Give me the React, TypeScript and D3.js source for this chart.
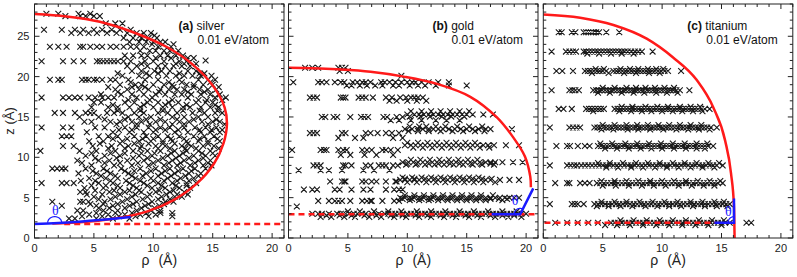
import React from 'react';
import * as d3 from 'd3';

const W = 797, H = 277;
const PLOT_TOP = 4, PLOT_BOTTOM = 238, PLOT_W = 249.5;
const panelLefts = [34.5, 288.5, 543.3];
const xDomain = [0, 21];
const yDomain = [0, 29];
const xMajor = [0, 5, 10, 15, 20];
const yMajor = [0, 5, 10, 15, 20, 25];
const xMinor = d3.range(0, 22, 1);
const yMinor = d3.range(0, 30, 1);

const panelTags = ['(a)', '(b)', '(c)'];
const panelNames = ['silver', 'gold', 'titanium'];
const energyLabel = '0.01 eV/atom';

type Row = { z: number; rho: number[] };

const silverRows: Row[] = [
  { z: 27.8, rho: [1.0, 2.0, 3.7, 4.7] },
  { z: 27.5, rho: [2.6, 3.85, 4.3, 5.0, 5.5] },
  { z: 26.6, rho: [6.0, 6.8, 7.4] },
  { z: 25.8, rho: [0.8, 2.3, 3.4, 4.1, 5.0, 5.7, 6.5, 7.2, 8.1] },
  { z: 25.4, rho: [3.1, 3.85, 4.55, 5.25, 6.1, 6.9, 7.8, 8.6, 9.2, 9.8] },
  { z: 25.1, rho: [8.9, 10.1] },
  { z: 24.8, rho: [7.5, 8.3, 9.0, 9.6, 10.3] },
  { z: 24.3, rho: [8.0, 8.8, 9.4, 10.0, 10.6, 11.0] },
  { z: 24.0, rho: [9.9, 10.8, 11.7] },
  { z: 23.7, rho: [1.3, 2.0, 2.7, 3.85, 4.1, 4.7, 5.25, 5.7, 6.4, 6.9, 7.5, 8.1, 8.6, 9.2, 10.4, 11.5] },
  { z: 23.2, rho: [8.9, 9.7, 10.2, 10.9, 11.4, 12.1] },
  { z: 22.6, rho: [7.6, 8.3, 9.0, 9.5, 10.6, 11.2, 11.9, 12.5] },
  { z: 22.3, rho: [10.2, 11.5, 12.9, 13.4] },
  { z: 22.0, rho: [14.4] },
  { z: 21.9, rho: [0.6, 2.4, 3.3, 4.1, 5.25, 5.5, 5.8, 6.1, 6.4, 6.7, 7.0, 7.5, 8.1, 9.3, 10.0, 10.9, 12.2, 12.8] },
  { z: 21.6, rho: [9.0, 11.9, 12.6, 13.6] },
  { z: 21.3, rho: [7.8, 8.6, 9.5, 10.4, 11.0, 11.7, 12.4, 13.1] },
  { z: 20.7, rho: [8.2, 9.0, 10.1, 10.7, 11.4, 12.9, 13.6] },
  { z: 20.4, rho: [7.0, 9.4, 10.4, 12.2, 13.9, 14.3] },
  { z: 20.1, rho: [7.4, 8.8, 9.7, 11.1, 11.9, 12.6, 13.3, 14.0, 14.9] },
  { z: 19.6, rho: [1.3, 2.0, 2.3, 4.0, 4.3, 4.55, 5.0, 5.25, 5.7, 6.4, 6.8, 7.9, 9.3, 10.4, 12.2, 13.8, 14.6, 15.2] },
  { z: 19.3, rho: [8.1, 11.3, 12.4, 14.8] },
  { z: 19.0, rho: [7.2, 8.5, 9.0, 10.0, 10.9, 11.6, 12.8, 13.4, 14.2, 15.0] },
  { z: 18.7, rho: [6.2, 8.2, 9.3, 11.7, 13.4, 15.5] },
  { z: 18.4, rho: [6.8, 7.8, 8.8, 9.6, 10.6, 11.3, 12.0, 12.6, 13.9, 14.6, 15.3] },
  { z: 18.1, rho: [7.0, 10.5, 12.9, 14.3] },
  { z: 17.8, rho: [5.6, 7.3, 8.2, 9.2, 10.2, 11.0, 11.8, 12.4, 13.2, 14.0, 14.8, 15.6] },
  { z: 17.4, rho: [0.6, 2.4, 2.9, 3.4, 3.85, 4.55, 5.1, 5.7, 6.2, 6.7, 8.6, 9.9, 12.9, 15.2, 16.1] },
  { z: 17.1, rho: [7.9, 9.7, 11.6, 13.8, 14.5, 15.8] },
  { z: 16.8, rho: [5.0, 5.6, 7.6, 8.4, 9.5, 10.4, 11.3, 12.1, 13.6, 14.4, 15.0] },
  { z: 16.5, rho: [6.6, 9.2, 11.0, 12.8, 15.2] },
  { z: 16.2, rho: [4.8, 6.2, 7.0, 8.0, 8.9, 10.0, 10.8, 11.6, 12.5, 13.1, 14.0, 14.8, 15.5] },
  { z: 15.8, rho: [7.0, 8.9, 10.8, 12.5, 13.9, 15.4] },
  { z: 15.5, rho: [1.7, 2.4, 3.4, 4.3, 4.7, 5.0, 6.1, 6.7, 7.4, 8.4, 9.2, 10.4, 11.2, 12.0, 13.3, 14.3, 15.2, 15.8] },
  { z: 15.0, rho: [3.8, 5.4, 7.9, 8.8, 9.8, 11.6, 12.6, 13.8, 14.6] },
  { z: 14.7, rho: [5.9, 7.6, 9.4, 10.6, 12.0, 13.4, 15.3] },
  { z: 14.4, rho: [4.2, 4.8, 6.4, 7.2, 8.2, 9.0, 10.2, 11.0, 12.2, 13.0, 14.1, 15.0, 15.6] },
  { z: 14.1, rho: [6.9, 8.6, 9.7, 11.6, 12.6, 14.6, 16.0] },
  { z: 13.7, rho: [0.6, 2.4, 3.1, 5.1, 5.9, 7.6, 8.6, 9.6, 10.6, 11.4, 12.6, 13.5, 14.4, 15.3] },
  { z: 13.4, rho: [7.1, 8.2, 10.2, 11.0, 12.1, 13.9, 14.9, 15.8] },
  { z: 13.1, rho: [4.4, 6.6, 8.0, 9.2, 10.0, 11.8, 12.9, 14.0, 14.8, 15.6] },
  { z: 12.6, rho: [2.3, 2.7, 3.1, 5.4, 6.2, 7.0, 8.4, 9.4, 10.4, 11.2, 12.2, 13.4, 14.3, 15.1] },
  { z: 12.3, rho: [6.6, 7.8, 9.1, 10.0, 11.5, 12.6, 13.9, 15.4] },
  { z: 12.0, rho: [4.6, 5.8, 7.4, 8.8, 9.8, 10.8, 11.6, 12.8, 13.8, 14.6, 15.6] },
  { z: 11.7, rho: [5.5, 7.2, 8.4, 9.6, 10.8, 11.8, 12.9, 14.6] },
  { z: 11.4, rho: [2.4, 3.3, 4.9, 6.5, 7.9, 9.0, 10.2, 11.0, 12.4, 13.2, 14.2, 15.1] },
  { z: 11.1, rho: [6.2, 7.6, 8.9, 10.4, 11.4, 12.7, 13.6, 15.5] },
  { z: 10.8, rho: [0.5, 3.8, 5.2, 6.8, 8.3, 9.5, 10.6, 11.8, 12.8, 13.8, 14.8] },
  { z: 10.5, rho: [4.8, 6.4, 7.6, 9.0, 10.1, 11.5, 12.5, 14.1, 15.0] },
  { z: 10.2, rho: [4.3, 5.9, 7.2, 8.8, 9.9, 11.2, 12.2, 13.4, 14.4, 15.2] },
  { z: 9.9, rho: [5.1, 6.9, 8.3, 9.5, 10.8, 11.9, 13.0, 14.2] },
  { z: 9.6, rho: [3.6, 5.4, 6.3, 7.8, 9.2, 10.4, 11.6, 12.6, 13.8, 14.8] },
  { z: 9.3, rho: [4.0, 5.9, 7.2, 8.7, 10.0, 11.3, 12.3, 13.5, 14.6] },
  { z: 9.0, rho: [4.8, 6.7, 8.2, 9.6, 10.9, 12.0, 13.1, 14.2, 14.9] },
  { z: 8.6, rho: [1.5, 1.9, 2.3, 2.6, 4.3, 5.8, 7.3, 8.9, 10.2, 11.4, 12.5, 13.5, 14.4] },
  { z: 8.3, rho: [4.9, 6.1, 7.6, 8.4, 9.8, 11.0, 12.1, 13.2] },
  { z: 8.0, rho: [3.7, 5.2, 6.4, 7.9, 9.4, 10.7, 11.8, 13.0, 14.0] },
  { z: 7.7, rho: [5.6, 6.8, 8.2, 9.1, 10.4, 11.5, 12.7, 13.8] },
  { z: 7.4, rho: [4.6, 6.0, 7.0, 8.5, 9.8, 11.2, 12.3, 13.4] },
  { z: 7.1, rho: [3.9, 5.1, 6.4, 7.7, 8.9, 10.0, 10.9, 12.0, 13.0] },
  { z: 6.8, rho: [0.6, 2.3, 2.7, 3.3, 5.4, 6.6, 8.0, 9.2, 10.4, 11.6, 12.8, 13.6] },
  { z: 6.5, rho: [4.8, 6.0, 7.0, 8.3, 9.5, 10.7, 11.9, 12.8] },
  { z: 6.2, rho: [4.2, 5.8, 7.2, 8.6, 9.9, 11.0, 12.2, 13.1] },
  { z: 5.9, rho: [5.1, 6.7, 8.0, 8.8, 10.5, 11.7] },
  { z: 5.7, rho: [3.85, 4.3, 6.3, 7.6, 9.0, 10.2, 11.4, 12.6] },
  { z: 5.4, rho: [4.4, 5.7, 7.2, 8.5, 9.7, 11.1, 12.0, 12.9] },
  { z: 5.1, rho: [5.0, 6.8, 8.2, 9.5, 10.7, 11.8, 12.4] },
  { z: 4.8, rho: [5.4, 6.4, 7.8, 9.1, 10.4, 11.4] },
  { z: 4.5, rho: [1.5, 3.85, 4.1, 4.55, 5.9, 7.4, 8.6, 9.9, 11.0, 11.7] },
  { z: 4.2, rho: [4.7, 5.8, 7.0, 8.3, 9.6, 10.9] },
  { z: 4.0, rho: [2.3, 5.2, 6.6, 8.0, 9.3, 10.5] },
  { z: 3.7, rho: [5.4, 6.3, 7.6, 9.0, 10.1] },
  { z: 3.4, rho: [3.6, 4.1, 5.8, 7.0, 8.6, 9.8, 10.6] },
  { z: 3.1, rho: [5.2, 6.8, 8.2, 9.4, 10.6, 11.6] },
  { z: 2.9, rho: [4.6, 6.2, 7.6, 8.9, 10.2] },
  { z: 2.7, rho: [4.0, 5.7, 7.1, 8.5, 9.6, 11.6] },
  { z: 2.4, rho: [2.9, 3.4, 5.2, 6.6, 8.0] },
];

const goldRows: Row[] = [
  { z: 21.1, rho: [1.4, 2.0, 2.5, 4.2, 4.5, 4.8] },
  { z: 20.7, rho: [4.3, 5.0] },
  { z: 20.1, rho: [9.5] },
  { z: 19.3, rho: [0.4, 2.5, 2.8, 3.2, 3.9, 4.4, 4.7, 5.4, 5.8, 6.2, 6.5, 6.9, 7.8, 8.1, 8.5, 9.0, 9.5, 10.0, 10.4, 10.7, 11.2, 11.8, 12.6, 13.5] },
  { z: 18.9, rho: [4.9, 5.3, 6.0, 6.6, 7.3, 7.9, 8.8, 9.3, 10.2, 10.9, 11.5, 12.4, 13.5, 15.0] },
  { z: 17.4, rho: [1.8, 2.1, 2.4, 4.4, 4.6, 4.8, 5.9, 6.2, 6.5, 7.1, 8.2, 8.7, 9.4, 9.9, 10.3, 10.6, 10.9, 11.3] },
  { z: 17.0, rho: [8.5, 9.1, 10.0, 10.8, 11.6] },
  { z: 15.7, rho: [10.3, 11.2, 12.0, 12.8, 13.6, 14.4, 15.2] },
  { z: 15.3, rho: [10.0, 10.6, 11.0, 11.4, 11.8, 12.2, 12.6, 13.0, 13.4, 13.8, 14.2, 14.6, 15.0, 15.5, 16.4, 17.2] },
  { z: 15.05, rho: [10.2, 11.1, 11.9, 12.9, 13.7, 14.8] },
  { z: 15.0, rho: [2.8, 3.1, 3.8, 4.1, 5.2, 6.1, 6.4, 6.7, 8.0, 8.3, 9.1, 9.6] },
  { z: 14.6, rho: [8.6, 9.3, 10.3, 11.2, 12.4, 13.3, 14.4] },
  { z: 13.8, rho: [10.2, 11.0, 11.6, 12.4, 13.2, 14.2, 15.2, 16.3] },
  { z: 13.5, rho: [9.8, 10.4, 10.9, 11.3, 11.8, 12.2, 12.6, 13.0, 13.5, 14.0, 14.5, 15.0, 15.5, 16.0, 16.6, 17.0, 18.8] },
  { z: 13.25, rho: [10.1, 10.9, 11.8, 12.8, 13.8, 14.7, 15.7, 16.5] },
  { z: 13.0, rho: [1.8, 2.1, 2.4, 4.5, 4.8, 6.5, 6.9, 7.5, 8.2, 8.7, 9.3] },
  { z: 12.4, rho: [4.2, 5.6, 6.3, 8.8, 9.6] },
  { z: 11.8, rho: [10.0, 10.9, 11.7, 12.5, 13.3, 14.1, 14.9, 15.7] },
  { z: 11.5, rho: [9.8, 10.3, 10.7, 11.1, 11.5, 11.9, 12.3, 12.7, 13.1, 13.5, 13.9, 14.3, 14.7, 15.1, 15.5, 15.9, 16.4, 16.8, 17.3, 18.3, 19.4] },
  { z: 11.2, rho: [10.5, 11.3, 12.1, 12.9, 13.7, 14.5, 15.3, 16.1, 16.9] },
  { z: 10.9, rho: [0.3, 2.7, 3.0, 3.2, 4.2, 4.6, 4.9, 6.2, 6.6, 7.0, 7.9, 8.2, 8.6, 9.2] },
  { z: 10.3, rho: [4.4, 5.2, 6.4, 7.4, 8.8] },
  { z: 9.7, rho: [10.3, 11.1, 11.9, 12.7, 13.5, 14.3, 15.1, 15.9] },
  { z: 9.4, rho: [9.6, 10.1, 10.5, 10.9, 11.3, 11.7, 12.1, 12.5, 12.9, 13.3, 13.7, 14.1, 14.5, 14.9, 15.3, 15.7, 16.1, 16.6, 17.0, 17.4, 18.0, 18.9, 19.7] },
  { z: 9.2, rho: [10.0, 10.8, 11.8, 12.6, 13.6, 14.4, 15.4, 16.2, 17.0] },
  { z: 9.1, rho: [9.9, 10.7, 11.5, 12.3, 13.1, 13.9, 14.7, 15.5, 16.3, 17.3] },
  { z: 9.0, rho: [2.1, 2.4, 2.7, 4.6, 4.8, 5.3, 6.5, 6.9, 7.6, 7.9, 8.2, 8.8, 9.2] },
  { z: 8.4, rho: [0.85, 2.7, 3.4, 4.5, 6.3, 7.2, 8.5] },
  { z: 7.5, rho: [9.6, 10.4, 11.2, 12.0, 12.8, 13.6, 14.4, 15.2, 16.0] },
  { z: 7.35, rho: [9.8, 10.6, 11.5, 12.3, 13.1, 13.9, 14.7, 15.5, 16.3, 17.1] },
  { z: 7.2, rho: [9.4, 9.8, 10.2, 10.6, 11.0, 11.4, 11.8, 12.2, 12.6, 13.0, 13.4, 13.8, 14.2, 14.6, 15.0, 15.4, 15.8, 16.2, 16.6, 17.0, 17.8, 18.6, 19.4] },
  { z: 7.0, rho: [3.5, 4.5, 4.7, 4.8, 6.2, 6.5, 7.0, 7.4, 8.2, 9.0, 9.1] },
  { z: 6.9, rho: [10.0, 10.8, 11.6, 12.4, 13.2, 14.0, 14.8, 15.6, 16.4, 17.4] },
  { z: 6.0, rho: [1.3, 2.0, 2.4, 3.9, 4.3, 5.3, 6.3, 6.9, 8.2, 8.9, 9.3, 9.6] },
  { z: 5.3, rho: [9.8, 10.6, 11.4, 12.2, 13.0, 13.8, 14.6, 15.4, 16.2, 17.2] },
  { z: 5.0, rho: [9.4, 9.8, 10.2, 10.6, 11.0, 11.4, 11.8, 12.2, 12.6, 13.0, 13.4, 13.8, 14.2, 14.6, 15.0, 15.4, 15.8, 16.2, 16.6, 17.0, 17.4, 17.8, 18.2, 18.6, 19.0, 19.4] },
  { z: 4.85, rho: [9.6, 10.4, 11.2, 12.0, 12.9, 13.7, 14.5, 15.3, 16.1, 17.0, 17.7, 18.4] },
  { z: 4.7, rho: [10.2, 11.0, 11.8, 12.6, 13.4, 14.2, 15.0, 15.8, 16.6, 18.0] },
  { z: 4.6, rho: [2.5, 3.4, 3.9, 4.2, 4.5, 5.2, 6.2, 6.6, 6.9, 7.0, 7.9, 8.9, 9.3] },
  { z: 3.9, rho: [0.7] },
  { z: 3.3, rho: [5.0, 6.0, 7.2, 8.4, 9.5, 10.8, 12.0, 13.2, 14.4, 15.6, 16.8, 18.0, 19.2] },
  { z: 3.0, rho: [2.0, 2.5, 2.8, 3.4, 4.1, 4.4, 4.6, 5.1, 5.5, 5.8, 6.2, 6.5, 7.0, 7.6, 8.1, 8.4, 8.7, 9.0, 9.3, 9.6, 10.0, 10.3, 10.6, 10.9, 11.2, 11.5, 11.8, 12.1, 12.4, 12.7, 13.0, 13.3, 13.6, 13.9, 14.2, 14.5, 14.8, 15.1, 15.4, 15.7, 16.0, 16.3, 16.6, 16.9, 17.2, 17.5, 17.8, 18.1, 18.4, 18.7, 19.0, 19.3, 19.6, 20.0] },
  { z: 2.8, rho: [3.2, 4.3, 5.3, 6.4, 7.4, 8.6, 9.6, 10.7, 11.7, 12.8, 13.8, 14.9, 15.9, 17.0, 18.0, 19.0] },
  { z: 2.6, rho: [2.7, 3.6, 4.7, 5.6, 6.8, 7.8, 8.9, 9.9, 11.0, 12.0, 13.1, 14.1, 15.2, 16.2, 17.4, 18.5, 19.6] },
];

const titaniumRows: Row[] = [
  { z: 25.5, rho: [1.3, 1.55, 2.4, 2.7, 3.4, 3.6, 3.8, 4.0, 4.2, 4.45, 4.7, 5.3, 6.4] },
  { z: 23.1, rho: [0.7, 1.9, 2.2, 2.5, 2.75, 3.4, 3.6, 3.85, 4.1, 4.35, 4.6, 4.85, 5.1, 5.35, 5.6, 5.85, 6.1, 6.35, 6.6, 6.85, 7.1, 7.4, 7.7, 8.0, 8.3, 9.2] },
  { z: 22.85, rho: [3.7, 4.7, 5.7, 6.6, 7.6] },
  { z: 20.95, rho: [4.4, 5.1, 6.5, 7.3, 8.0, 8.8, 9.5, 10.1] },
  { z: 20.7, rho: [1.1, 1.6, 2.5, 3.5, 3.75, 4.0, 4.25, 4.5, 4.75, 5.0, 5.3, 5.9, 6.15, 6.4, 6.65, 6.9, 7.15, 7.4, 7.65, 7.9, 8.15, 8.4, 8.65, 8.9, 9.15, 9.4, 9.65, 9.9, 10.2, 10.5, 11.6] },
  { z: 20.45, rho: [4.1, 5.5, 6.8, 7.8, 8.9, 9.8] },
  { z: 18.6, rho: [5.0, 6.0, 7.0, 7.8, 8.6, 9.4, 10.2, 11.0] },
  { z: 18.3, rho: [0.7, 2.2, 2.45, 2.7, 3.0, 4.2, 4.45, 4.7, 4.95, 5.2, 5.45, 5.7, 5.95, 6.2, 6.45, 6.7, 6.95, 7.2, 7.45, 7.7, 7.95, 8.2, 8.45, 8.7, 8.95, 9.2, 9.45, 9.7, 9.95, 10.2, 10.45, 10.7, 10.95, 11.2, 11.5, 12.3] },
  { z: 18.0, rho: [4.6, 5.6, 6.6, 7.6, 8.5, 9.5, 10.4, 11.3] },
  { z: 16.25, rho: [6.6, 7.5, 8.6, 9.6, 10.5, 11.5, 12.4, 13.2] },
  { z: 16.0, rho: [1.3, 1.7, 2.4, 3.6, 3.85, 4.1, 4.35, 4.6, 4.85, 5.1, 6.0, 6.25, 6.5, 6.75, 7.0, 7.25, 7.5, 7.75, 8.0, 8.25, 8.5, 8.75, 9.0, 9.25, 9.5, 9.75, 10.0, 10.25, 10.5, 10.75, 11.0, 11.25, 11.5, 11.75, 12.0, 12.25, 12.5, 12.75, 13.0, 13.3, 13.6, 14.0] },
  { z: 15.7, rho: [4.2, 6.4, 7.4, 8.3, 9.1, 10.0, 10.9, 11.7, 12.6, 13.4] },
  { z: 14.0, rho: [5.0, 6.0, 7.0, 7.9, 8.8, 9.7, 10.6, 11.5, 12.4, 13.3] },
  { z: 13.7, rho: [0.55, 2.2, 2.5, 2.8, 3.1, 4.3, 4.55, 4.8, 5.05, 5.3, 5.55, 5.8, 6.05, 6.3, 6.55, 6.8, 7.05, 7.3, 7.55, 7.8, 8.05, 8.3, 8.55, 8.8, 9.05, 9.3, 9.55, 9.8, 10.05, 10.3, 10.55, 10.8, 11.05, 11.3, 11.55, 11.8, 12.05, 12.3, 12.55, 12.8, 13.05, 13.3, 13.55, 13.8, 14.1, 14.6] },
  { z: 13.45, rho: [4.9, 5.9, 7.1, 8.0, 9.0, 10.1, 11.2, 12.2, 13.1, 14.0] },
  { z: 11.7, rho: [4.8, 5.8, 6.9, 7.9, 8.9, 9.9, 10.9, 11.9, 12.9, 13.8] },
  { z: 11.4, rho: [1.1, 2.0, 2.25, 2.9, 3.5, 3.9, 4.6, 4.85, 5.1, 5.35, 5.6, 5.85, 6.1, 6.35, 6.6, 6.85, 7.1, 7.35, 7.6, 7.85, 8.1, 8.35, 8.6, 8.85, 9.1, 9.35, 9.6, 9.85, 10.1, 10.35, 10.6, 10.85, 11.1, 11.35, 11.6, 11.85, 12.1, 12.35, 12.6, 12.85, 13.1, 13.35, 13.6, 13.85, 14.3] },
  { z: 11.1, rho: [5.2, 6.2, 7.2, 8.2, 9.1, 10.0, 11.0, 12.0, 12.9, 13.6] },
  { z: 9.3, rho: [4.6, 5.6, 6.7, 7.8, 8.8, 9.8, 10.9, 11.9, 12.9, 13.9, 14.8] },
  { z: 9.0, rho: [0.55, 2.0, 2.3, 2.6, 2.85, 3.2, 3.5, 3.8, 4.1, 4.4, 4.7, 5.0, 5.3, 5.6, 5.9, 6.2, 6.5, 6.8, 7.1, 7.4, 7.7, 8.0, 8.3, 8.6, 8.9, 9.2, 9.5, 9.8, 10.1, 10.4, 10.7, 11.0, 11.3, 11.6, 11.9, 12.2, 12.5, 12.8, 13.1, 13.4, 13.7, 14.0, 14.3, 14.6, 15.1] },
  { z: 8.75, rho: [5.3, 6.3, 7.4, 8.4, 9.4, 10.4, 11.4, 12.4, 13.4, 14.4] },
  { z: 7.05, rho: [4.9, 6.0, 7.0, 8.0, 9.0, 10.0, 11.0, 12.0, 13.0, 14.0, 14.9] },
  { z: 6.8, rho: [1.0, 2.0, 2.2, 3.1, 3.5, 3.9, 4.5, 4.8, 5.1, 5.4, 5.7, 6.0, 6.3, 6.6, 6.9, 7.2, 7.5, 7.8, 8.1, 8.4, 8.7, 9.0, 9.3, 9.6, 9.9, 10.2, 10.5, 10.8, 11.1, 11.4, 11.7, 12.0, 12.3, 12.6, 12.9, 13.2, 13.5, 13.8, 14.1, 14.4, 14.7, 15.1] },
  { z: 6.5, rho: [5.0, 6.1, 7.2, 8.3, 9.3, 10.3, 11.4, 12.5, 13.5, 14.4] },
  { z: 4.5, rho: [4.9, 6.0, 7.0, 8.1, 9.2, 10.2, 11.3, 12.4, 13.4, 14.4, 15.2] },
  { z: 4.2, rho: [0.55, 2.4, 2.65, 2.9, 3.4, 4.3, 4.6, 4.9, 5.2, 5.5, 5.8, 6.1, 6.4, 6.7, 7.0, 7.3, 7.6, 7.9, 8.2, 8.5, 8.8, 9.1, 9.4, 9.7, 10.0, 10.3, 10.6, 10.9, 11.2, 11.5, 11.8, 12.1, 12.4, 12.7, 13.0, 13.3, 13.6, 13.9, 14.2, 14.5, 14.8, 15.1, 15.4, 15.7] },
  { z: 3.95, rho: [4.5, 5.5, 6.5, 7.5, 8.6, 9.6, 10.6, 11.6, 12.6, 13.6, 14.6, 15.5] },
  { z: 2.2, rho: [6.5, 7.6, 8.7, 9.8, 10.9, 12.0, 13.1, 14.2, 15.2] },
  { z: 1.9, rho: [1.0, 2.0, 2.9, 3.8, 4.6, 5.7, 6.0, 6.3, 6.6, 6.9, 7.2, 7.5, 7.8, 8.1, 8.4, 8.7, 9.0, 9.3, 9.6, 9.9, 10.2, 10.5, 10.8, 11.1, 11.4, 11.7, 12.0, 12.3, 12.6, 12.9, 13.2, 13.5, 13.8, 14.1, 14.4, 14.7, 15.0, 15.3, 15.7, 17.1, 17.5] },
  { z: 1.6, rho: [5.2, 6.2, 7.3, 8.4, 9.5, 10.6, 11.7, 12.8, 13.9, 15.0] },
];

// fitted droplet profiles (rho, z)
const silverFit: [number, number][] = [
  [1.5, 1.8], [4.1, 1.98], [6.9, 2.45], [9.5, 3.3], [11.7, 4.7], [13.7, 6.8], [15.1, 9.2],
  [15.9, 11.7], [16.2, 14.2], [16.0, 16.2], [15.1, 18.7], [13.4, 21.4], [11.1, 23.7],
  [8.3, 25.5], [5.5, 26.8], [2.7, 27.45], [0, 27.75],
];
const goldFit: [number, number][] = [
  [0, 21.1], [1.3, 21.08], [4.1, 20.9], [6.9, 20.6], [9.7, 20.0], [12.5, 19.1], [15.3, 17.5],
  [17.5, 15.0], [18.9, 12.5], [19.9, 10.1], [20.35, 7.6], [20.4, 6.3],
];
const titaniumFit: [number, number][] = [
  [0, 27.7], [3.1, 27.3], [5.9, 26.4], [8.7, 24.7], [10.9, 22.4], [12.9, 19.6], [14.3, 16.2],
  [15.3, 12.1], [15.8, 8.0], [16.05, 3.9], [16.1, 0],
];

// substrate level (dashed) : z, rho start, rho end
const substrateZ = [1.75, 2.93, 1.9];
const substrateFrom = [2.5, 0, 0.1];
const substrateTo = [21, 21, 14.5];

// contact-angle construction lines
const silverTangent: [number, number][] = [[0, 1.75], [2, 1.85], [4, 2.05], [6, 2.3], [8.1, 2.6]];
const goldTangent: [number, number][] = [[17.1, 2.93], [19.5, 2.93], [20.6, 6.15]];
const titaniumTangent: [number, number][] = [[14.4, 1.9], [16.05, 1.9], [16.05, 4.9]];

// angle arcs: centre (rho,z), start/end angle in degrees
const arcCentre: [number, number][] = [[1.7, 1.9], [19.5, 2.93], [16.05, 1.9]];
const arcFrom = [0, 63, 90];
const arcTo = [180, 180, 180];
const thetaPos: [number, number][] = [[1.75, 3.45], [19.07, 4.7], [15.57, 3.4]];

const rowsByPanel = [silverRows, goldRows, titaniumRows];
const fitByPanel = [silverFit, goldFit, titaniumFit];
const tangentByPanel = [silverTangent, goldTangent, titaniumTangent];

const FONT = "'Liberation Sans', Arial, Helvetica, sans-serif";
const AXIS = '#222';
const RED = '#ff1a1a';
const BLUE = '#1a1aff';

function Panel({ idx }: { idx: number }) {
  const left = panelLefts[idx];
  const x = d3.scaleLinear().domain(xDomain).range([left, left + PLOT_W]);
  const y = d3.scaleLinear().domain(yDomain).range([PLOT_BOTTOM, PLOT_TOP]);
  const line = d3.line<[number, number]>().x(d => x(d[0])).y(d => y(d[1]));
  const smooth = d3.line<[number, number]>().x(d => x(d[0])).y(d => y(d[1])).curve(d3.curveCatmullRom.alpha(0.5));
  const fitCurve = idx === 2
    ? d3.line<[number, number]>().x(d => x(d[0])).y(d => y(d[1])).curve(d3.curveMonotoneX)
    : smooth;
  const tangentCurve = idx === 0 ? smooth : line;

  const s = 2.9;
  let marks = '';
  rowsByPanel[idx].forEach(r => {
    const py = y(r.z);
    r.rho.forEach(v => {
      const px = x(v);
      marks += `M${(px - s).toFixed(1)},${(py - s).toFixed(1)}L${(px + s).toFixed(1)},${(py + s).toFixed(1)}M${(px - s).toFixed(1)},${(py + s).toFixed(1)}L${(px + s).toFixed(1)},${(py - s).toFixed(1)}`;
    });
  });

  const [cr, cz] = arcCentre[idx];
  const cx = x(cr), cy = y(cz);
  const rx = idx === 0 ? 7 : 6, ry = 6;
  const arcPts = d3.range(arcFrom[idx], arcTo[idx] + 0.1, 5).map(a => {
    const t = (a * Math.PI) / 180;
    return [cx + rx * Math.cos(t), cy - ry * Math.sin(t)] as [number, number];
  });
  const arcPath = d3.line()(arcPts) || '';

  const clipId = `clip${idx}`;
  const top = PLOT_TOP, bottom = PLOT_BOTTOM, right = left + PLOT_W;

  return (
    <g>
      <defs>
        <clipPath id={clipId}>
          <rect x={left} y={top} width={PLOT_W} height={bottom - top} />
        </clipPath>
      </defs>
      <g clipPath={`url(#${clipId})`}>
        <path d={marks} stroke="#1a1a1a" strokeWidth={1.1} fill="none" />
        <line x1={x(substrateFrom[idx])} x2={x(substrateTo[idx])} y1={y(substrateZ[idx])} y2={y(substrateZ[idx])}
          stroke={RED} strokeWidth={2.5} strokeDasharray="6,4" />
        <path d={fitCurve(fitByPanel[idx]) || ''} stroke={RED} strokeWidth={2.5} fill="none" />
        <path d={tangentCurve(tangentByPanel[idx]) || ''} stroke={BLUE} strokeWidth={2.5} fill="none" />
        <path d={arcPath} stroke={BLUE} strokeWidth={1.2} fill="none" />
        <text x={x(thetaPos[idx][0])} y={y(thetaPos[idx][1]) + 5} textAnchor="middle"
          fontFamily="'Liberation Serif', 'Times New Roman', serif" fontSize={14} fill={BLUE}>θ</text>
      </g>
      {xMinor.map(v => {
        const len = v % 5 === 0 ? 5 : 3;
        return (
          <g key={`xt${v}`}>
            <line x1={x(v)} x2={x(v)} y1={bottom} y2={bottom - len} stroke={AXIS} strokeWidth={1} />
            <line x1={x(v)} x2={x(v)} y1={top} y2={top + len} stroke={AXIS} strokeWidth={1} />
          </g>
        );
      })}
      {yMinor.map(v => {
        const len = v % 5 === 0 ? 5 : 3;
        return (
          <g key={`yt${v}`}>
            <line x1={left} x2={left + len} y1={y(v)} y2={y(v)} stroke={AXIS} strokeWidth={1} />
            <line x1={right} x2={right - len} y1={y(v)} y2={y(v)} stroke={AXIS} strokeWidth={1} />
          </g>
        );
      })}
      <rect x={left} y={top} width={PLOT_W} height={bottom - top} fill="none" stroke={AXIS} strokeWidth={1} />
      {xMajor.map(v => (
        <text key={`xl${v}`} x={x(v)} y={252} textAnchor="middle" fontFamily={FONT} fontSize={11} fill="#222">{v}</text>
      ))}
      {idx === 0 && yMajor.map(v => (
        <text key={`yl${v}`} x={left - 5} y={y(v) + 4} textAnchor="end" fontFamily={FONT} fontSize={11} fill="#222">{v}</text>
      ))}
      <text x={(left + right) / 2} y={265} textAnchor="middle" fontFamily={FONT} fontSize={14} fill="#222">
        <tspan>ρ</tspan><tspan dx={9}>(Å)</tspan>
      </text>
      <text x={left + 144} y={30} fontFamily={FONT} fontSize={12} fill="#111">
        <tspan fontWeight="bold">{panelTags[idx]}</tspan> {panelNames[idx]}
      </text>
      <text x={left + 163} y={44} fontFamily={FONT} fontSize={12} fill="#111">{energyLabel}</text>
    </g>
  );
}

export default function App() {
  return (
    <svg width={W} height={H} viewBox={`0 0 ${W} ${H}`}
      style={{ position: 'absolute', left: 0, top: 0, background: '#fff' }}>
      <rect x={0} y={0} width={W} height={H} fill="#fff" />
      {[0, 1, 2].map(i => <Panel key={i} idx={i} />)}
      <text transform={`translate(14,${(PLOT_TOP + PLOT_BOTTOM) / 2}) rotate(-90)`} textAnchor="middle"
        fontFamily={FONT} fontSize={13} fill="#222">z (Å)</text>
    </svg>
  );
}
